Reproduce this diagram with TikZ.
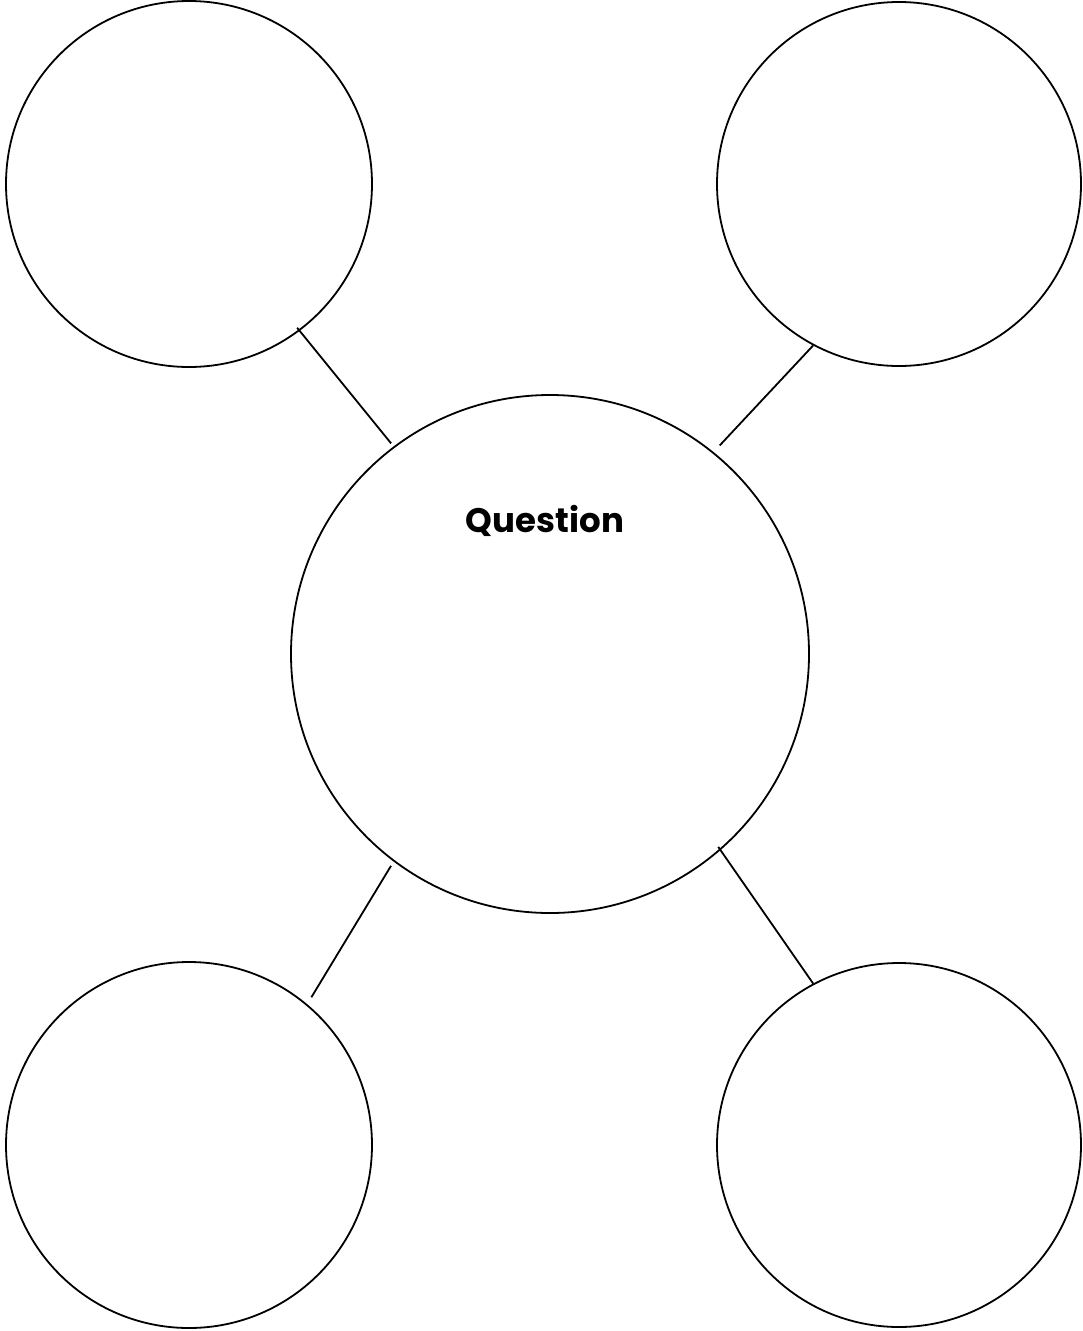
\documentclass[tikz,border=0pt]{standalone}
\usepackage{fontspec}
\setmainfont{Poppins}[Ligatures=NoCommon]
\begin{document}
\begin{tikzpicture}[x=1pt,y=-1pt,
  bubble/.style={circle,draw,line width=1.8pt,inner sep=0pt,minimum size=#1},
  link/.style={line width=1.8pt}]
\useasboundingbox[fill=white] (0,0) rectangle (1083,1331);
% central question circle
\node[bubble=518pt] (q) at (550,654) {};
\node[font=\bfseries\fontsize{34}{40}\selectfont] (qt) at (545,521) {Question};
% four surrounding circles
\node[bubble=366pt] (tl) at (189,184) {};
\node[bubble=364pt] (tr) at (899,184) {};
\node[bubble=366pt] (bl) at (189,1145) {};
\node[bubble=364pt] (br) at (899,1145) {};
% connectors
\draw[link,shorten <=-4pt,shorten >=4pt] (tl.-53) -- (q.127);
\draw[link,shorten >=9pt] (tr.-118) -- (q.51.5);
\draw[link,shorten <=8pt,shorten >=5pt] (bl.50) -- (q.-127);
\draw[link,shorten >=-4pt] (br.118) -- (q.-49);
\end{tikzpicture}
\end{document}
